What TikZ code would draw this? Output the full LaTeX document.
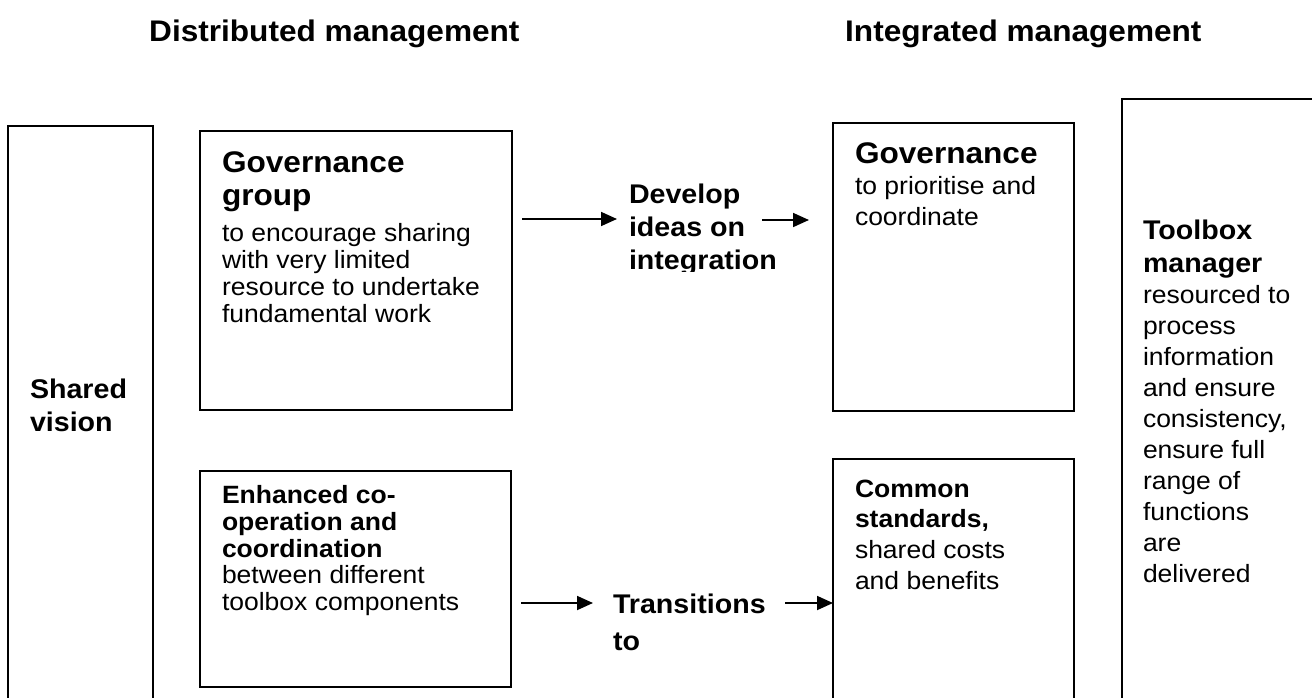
\documentclass[tikz,border=0pt]{standalone}
\usepackage{fontspec}
\setmainfont{Liberation Sans}[FakeStretch=1.06]
\usetikzlibrary{arrows.meta}

% type sizes (pt = px at the output scale)
\newcommand\titlefont{\fontsize{29.8}{34}\selectfont\bfseries}
\newcommand\govfont{\fontsize{29.8}{33}\selectfont\bfseries}
\newcommand\headfont{\fontsize{27}{33}\selectfont\bfseries}
\newcommand\subfont{\fontsize{25}{27}\selectfont\bfseries}
\newcommand\bodyfont{\fontsize{25}{27}\selectfont}
\newcommand\subwidefont{\fontsize{25}{30}\selectfont\bfseries}
\newcommand\bodywidefont{\fontsize{25}{31}\selectfont}

\begin{document}
\begin{tikzpicture}[x=1pt,y=-1pt,
  box/.style={draw, line width=1.8pt, inner sep=0pt, outer sep=0pt, anchor=north west},
  txt/.style={anchor=north west, inner sep=0pt, outer sep=0pt, align=left},
  arr/.style={-{Triangle[length=16pt,width=14pt]}, line width=1.8pt}]
\useasboundingbox (0,0) rectangle (1312,698);
\fill[white] (0,0) rectangle (1312,698);
\clip (0,0) rectangle (1312,698);

% column titles
\node[anchor=base west, inner sep=0pt, font=\titlefont] (tdist) at (149,42) {Distributed management};
\node[anchor=base west, inner sep=0pt, font=\titlefont] (tint) at (845,42) {Integrated management};

% frames
\node[box, minimum width=145pt, minimum height=700pt] (sv) at (8,126) {};
\node[box, minimum width=312pt, minimum height=279pt] (gg) at (200,131) {};
\node[box, minimum width=311pt, minimum height=216pt] (en) at (200,471) {};
\node[box, minimum width=241pt, minimum height=288pt] (gov) at (833,123) {};
\node[box, minimum width=241pt, minimum height=300pt] (com) at (833,459) {};
\node[box, minimum width=300pt, minimum height=700pt] (tb) at (1122,99) {};

% shared vision
\node[txt, font=\headfont] (svT) at (30,375.5) {\strut Shared\\vision};

% governance group
\node[txt, font=\govfont] (ggH) at (222,148.9) {\strut Governance\\group};
\node[txt, font=\bodyfont] (ggB) at (222,222.1) {\strut to encourage sharing\\with very limited\\resource to undertake\\fundamental work};

% enhanced co-operation
\node[txt, font=\subfont] (enH) at (222,484.1) {\strut Enhanced co-\\operation and\\coordination};
\node[txt, font=\bodyfont] (enB) at (222,564.1) {\strut between different\\toolbox components};

% middle labels
\begin{scope}
\clip (600,150) rectangle (800,271);
\node[txt, font=\headfont] (dev) at (629,179.9) {\strut Develop\\ideas on\\integration};
\end{scope}
\node[txt, font=\fontsize{27}{37}\selectfont\bfseries] (tr) at (613,587.1) {\strut Transitions\\to};

% governance (integrated)
\node[txt, font=\govfont] (govH) at (855,140.4) {\strut Governance};
\node[txt, font=\bodywidefont] (govB) at (855,172.3) {\strut to prioritise and\\coordinate};

% common standards
\node[txt, font=\subwidefont] (comH) at (855,476) {\strut Common\\standards,};
\node[txt, font=\bodywidefont] (comB) at (855,536.3) {\strut shared costs\\and benefits};

% toolbox manager
\node[txt, font=\headfont] (tbH) at (1143,216.6) {\strut Toolbox\\manager};
\node[txt, font=\bodywidefont] (tbB) at (1143,281.3) {\strut resourced to\\process\\information\\and ensure\\consistency,\\ensure full\\range of\\functions\\are\\delivered};

% arrows
\coordinate (r1) at (0,219);
\coordinate (a2s) at (762,220);
\coordinate (r3) at (0,603);
\coordinate (a4s) at (785,603);
\draw[arr] ([xshift=10pt]gg.east |- r1) -- ([xshift=-12pt]dev.west |- r1);
\draw[arr] (a2s) -- ([xshift=-24pt]gov.west |- a2s);
\draw[arr] ([xshift=10pt]en.east |- r3) -- ([xshift=-20pt]tr.west |- r3);
\draw[arr] (a4s) -- (com.west |- a4s);
\end{tikzpicture}
\end{document}
